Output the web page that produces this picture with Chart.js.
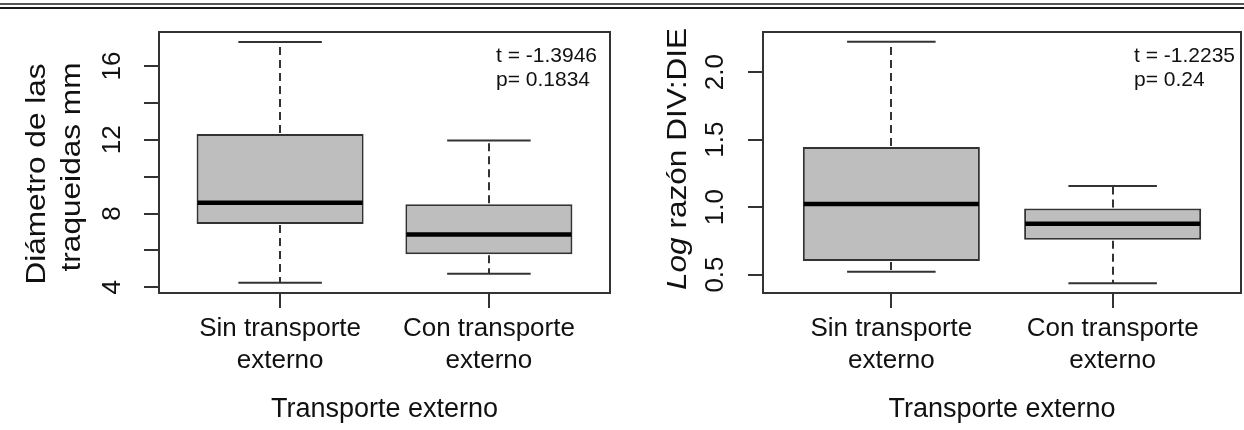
<!DOCTYPE html>
<html><head><meta charset="utf-8">
<script src="https://cdn.jsdelivr.net/npm/chart.js@4.4.1/dist/chart.umd.min.js"></script>
<style>
html,body{margin:0;padding:0;background:#fff;width:1244px;height:430px;overflow:hidden;}
#wrap{position:relative;width:1244px;height:430px;background:#fff;}
.rule1{position:absolute;left:0;top:3px;width:1244px;height:2px;background:#555;}
.rule2{position:absolute;left:0;top:7px;width:1244px;height:2px;background:#1a1a1a;}
canvas{position:absolute;top:0;}
#c1{left:0}
#c2{left:622px}
</style></head><body>
<div id="wrap">
<canvas id="c1" width="622" height="430"></canvas>
<canvas id="c2" width="622" height="430"></canvas>
<div class="rule1"></div><div class="rule2"></div>
</div>
<script>
// ---------- data ----------
const categories = [["Sin transporte", "externo"], ["Con transporte", "externo"]];
const groupPos = [1, 2];
const xTitle = "Transporte externo";

// Panel 1: diámetro de las traqueidas (mm)
const diamMin    = [4.25, 4.74];
const diamQ1     = [7.43, 5.79];
const diamMedian = [8.58, 6.87];
const diamQ3     = [12.32, 8.50];
const diamMax    = [17.31, 11.96];
const diamTicks      = [4, 6, 8, 10, 12, 14, 16];
const diamTickLabels = ["4", "", "8", "", "12", "", "16"];
const diamTitle = ["Diámetro de las", "traqueidas mm"];
const diamStats = ["t = -1.3946", "p= 0.1834"];

// Panel 2: log razón DIV:DIE
const ratioMin    = [0.52, 0.435];
const ratioQ1     = [0.60, 0.758];
const ratioMedian = [1.022, 0.877];
const ratioQ3     = [1.446, 0.99];
const ratioMax    = [2.226, 1.156];
const ratioTicks      = [0.5, 1.0, 1.5, 2.0];
const ratioTickLabels = ["0.5", "1.0", "1.5", "2.0"];
const ratioTitleItalic = "Log";
const ratioTitleRest = " razón DIV:DIE";
const ratioStats = ["t = -1.2235", "p= 0.24"];

// ---------- drawing ----------
const FAM = '"Liberation Sans", Arial, Helvetica, sans-serif';
const INK = '#111';
const LINE = '#333';

function boxPlugin(cfg) {
  return {
    id: 'rbox',
    afterDatasetsDraw(chart) {
      const {ctx, chartArea: a, scales: {x, y}} = chart;
      ctx.save();
      ctx.lineCap = 'butt';
      groupPos.forEach((g, i) => {
        const cx = Math.round(x.getPixelForValue(g));
        const capL = x.getPixelForValue(g - 0.2), capR = x.getPixelForValue(g + 0.2);
        const bL = x.getPixelForValue(g - 0.4), bR = x.getPixelForValue(g + 0.4);
        const yMax = y.getPixelForValue(cfg.max[i]);
        const yMin = y.getPixelForValue(cfg.min[i]);
        const yQ1 = y.getPixelForValue(cfg.q1[i]);
        const yQ3 = y.getPixelForValue(cfg.q3[i]);
        const yMed = y.getPixelForValue(cfg.med[i]);
        ctx.strokeStyle = LINE;
        ctx.lineWidth = 2;
        ctx.setLineDash([8, 5]);
        ctx.beginPath();
        ctx.moveTo(cx, yQ3 - 1); ctx.lineTo(cx, yMax);
        ctx.moveTo(cx, yQ1 + 1); ctx.lineTo(cx, yMin);
        ctx.stroke();
        ctx.setLineDash([]);
        ctx.lineWidth = 2;
        ctx.beginPath();
        ctx.moveTo(capL, yMax); ctx.lineTo(capR, yMax);
        ctx.moveTo(capL, yMin); ctx.lineTo(capR, yMin);
        ctx.stroke();
        ctx.strokeStyle = '#000';
        ctx.lineWidth = 4.5;
        ctx.beginPath();
        ctx.moveTo(bL + 1, yMed); ctx.lineTo(bR - 1, yMed);
        ctx.stroke();
      });
      // frame
      ctx.strokeStyle = LINE;
      ctx.lineWidth = 2;
      ctx.strokeRect(a.left, a.top, a.right - a.left, a.bottom - a.top);
      // y tick labels (rotated, as in R)
      ctx.fillStyle = INK;
      ctx.font = '26px ' + FAM;
      ctx.textAlign = 'center';
      ctx.textBaseline = 'alphabetic';
      y.ticks.forEach(t => {
        if (!t.label) return;
        const py = y.getPixelForValue(t.value);
        ctx.save();
        ctx.translate(a.left - cfg.tickLabelGap, py);
        ctx.rotate(-Math.PI / 2);
        ctx.fillText(t.label, 0, 0);
        ctx.restore();
      });
      // y title
      cfg.titleLines.forEach(line => {
        ctx.save();
        ctx.translate(line.x, line.y);
        ctx.rotate(-Math.PI / 2);
        ctx.scale(1.17, 1);
        let total = 0;
        const ws = line.parts.map(p => {
          ctx.font = (p.italic ? 'italic ' : '') + '27px ' + FAM;
          const w = ctx.measureText(p.text).width; total += w; return w;
        });
        let px = -total / 2;
        ctx.textAlign = 'left';
        line.parts.forEach((p, k) => {
          ctx.font = (p.italic ? 'italic ' : '') + '27px ' + FAM;
          ctx.fillText(p.text, px, 0);
          px += ws[k];
        });
        ctx.restore();
      });
      // statistics text
      ctx.font = '21px ' + FAM;
      ctx.textAlign = 'left';
      ctx.fillText(cfg.stats[0], cfg.statsX, 62);
      ctx.fillText(cfg.stats[1], cfg.statsX, 86);
      ctx.restore();
    }
  };
}

function makeChart(id, cfg) {
  const tickGrid = {drawOnChartArea: false, drawTicks: true, tickLength: 15, color: LINE, lineWidth: 2, offset: false};
  return new Chart(document.getElementById(id), {
    type: 'bar',
    data: {
      datasets: [{
        data: groupPos.map((g, i) => ({x: g, y: [cfg.q1[i], cfg.q3[i]]})),
        backgroundColor: '#bebebe',
        borderColor: LINE,
        borderWidth: 2,
        borderSkipped: false,
        categoryPercentage: 0.8,
        barPercentage: 1.0
      }]
    },
    options: {
      responsive: false,
      animation: false,
      devicePixelRatio: 1,
      layout: {padding: {left: 0, top: 32, right: cfg.padRight, bottom: 0}},
      plugins: {legend: {display: false}, tooltip: {enabled: false}},
      scales: {
        x: {
          type: 'linear', min: 0.42, max: 2.58, offset: false,
          afterBuildTicks: s => { s.ticks = groupPos.map(v => ({value: v})); },
          afterFit: s => { s.height = 137; },
          grid: tickGrid,
          border: {display: false},
          ticks: {
            callback: (v, i) => categories[i],
            font: {family: FAM, size: 26, lineHeight: 1.23},
            color: INK, padding: 5, maxRotation: 0, minRotation: 0, autoSkip: false
          },
          title: {display: true, text: xTitle, font: {family: FAM, size: 27, lineHeight: 1.2}, color: INK, padding: {top: 0, bottom: 4}}
        },
        y: {
          type: 'linear', min: cfg.ymin, max: cfg.ymax, beginAtZero: false,
          afterBuildTicks: s => { s.ticks = cfg.ticks.map(v => ({value: v})); },
          afterFit: s => { s.width = cfg.yWidth; },
          grid: tickGrid,
          border: {display: false},
          ticks: {display: false, callback: (v, i) => cfg.tickLabels[i]}
        }
      }
    },
    plugins: [boxPlugin(cfg)]
  });
}

makeChart('c1', {
  min: diamMin, q1: diamQ1, med: diamMedian, q3: diamQ3, max: diamMax,
  ticks: diamTicks, tickLabels: diamTickLabels,
  ymin: 3.69, ymax: 17.85, yWidth: 159, padRight: 12, tickLabelGap: 39,
  titleLines: [
    {x: 45, y: 174, parts: [{text: diamTitle[0], italic: false}]},
    {x: 80, y: 167, parts: [{text: diamTitle[1], italic: false}]}
  ],
  stats: diamStats, statsX: 496
});

makeChart('c2', {
  min: ratioMin, q1: ratioQ1, med: ratioMedian, q3: ratioQ3, max: ratioMax,
  ticks: ratioTicks, tickLabels: ratioTickLabels,
  ymin: 0.363, ymax: 2.298, yWidth: 141, padRight: 3, tickLabelGap: 40,
  titleLines: [
    {x: 64, y: 159, parts: [{text: ratioTitleItalic, italic: true}, {text: ratioTitleRest, italic: false}]}
  ],
  stats: ratioStats, statsX: 512
});
</script>
</body></html>
